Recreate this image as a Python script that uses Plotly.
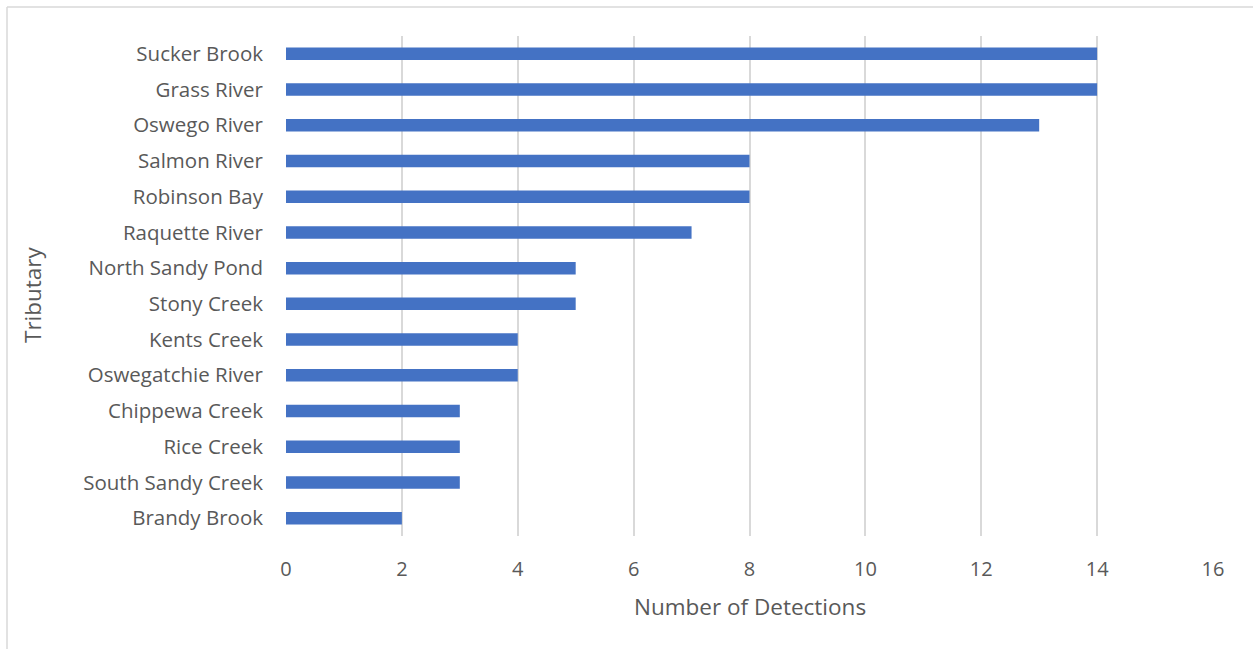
import plotly.graph_objects as go

categories = ["Sucker Brook", "Grass River", "Oswego River", "Salmon River", "Robinson Bay",
              "Raquette River", "North Sandy Pond", "Stony Creek", "Kents Creek",
              "Oswegatchie River", "Chippewa Creek", "Rice Creek", "South Sandy Creek", "Brandy Brook"]
detections = [14, 14, 13, 8, 8, 7, 5, 5, 4, 4, 3, 3, 3, 2]
x_ticks = [0, 2, 4, 6, 8, 10, 12, 14, 16]

W, H = 1253, 649
L, R, T, B = 286, 40, 36, 113
pw, ph = W - L - R, H - T - B

def px(xp):
    return (xp - L) / pw

def py(yp):
    return 1 - (yp - T) / ph

FONT = "Open Sans"
TXT = "#595959"

fig = go.Figure(go.Bar(
    y=categories[::-1], x=detections[::-1], orientation="h",
    marker=dict(color="#4472C4", line=dict(width=0)),
))

fig.update_layout(
    width=W, height=H,
    margin=dict(l=L, r=R, t=T, b=B),
    paper_bgcolor="white", plot_bgcolor="white",
    bargap=0.65,
    showlegend=False,
    font=dict(family=FONT, color=TXT, size=20),
    xaxis=dict(range=[0, 16], tickvals=x_ticks, showgrid=True, gridcolor="#d9d9d9",
               gridwidth=1.5, zeroline=False, showline=False, ticks="",
               tickfont=dict(size=20, color=TXT, family=FONT), ticklabelstandoff=19),
    yaxis=dict(showgrid=False, zeroline=False, showline=False, ticks="",
               tickfont=dict(size=20.5, color=TXT, family=FONT), ticklabelstandoff=22),
    annotations=[
        dict(text="Number of Detections", xref="paper", yref="paper",
             x=0.5, y=py(606), xanchor="center", yanchor="middle", showarrow=False,
             font=dict(size=22.5, color=TXT, family=FONT)),
        dict(text="Tributary", xref="paper", yref="paper", textangle=-90,
             x=px(32), y=py(295), xanchor="center", yanchor="middle", showarrow=False,
             font=dict(size=22.5, color=TXT, family=FONT)),
    ],
    shapes=[
        dict(type="line", xref="paper", yref="paper", x0=px(7), x1=px(W), y0=py(7), y1=py(7),
             line=dict(color="#d9d9d9", width=1.5)),
        dict(type="line", xref="paper", yref="paper", x0=px(7), x1=px(7), y0=py(7), y1=py(H),
             line=dict(color="#d9d9d9", width=1.5)),
    ],
)

fig.write_html("out.html")
